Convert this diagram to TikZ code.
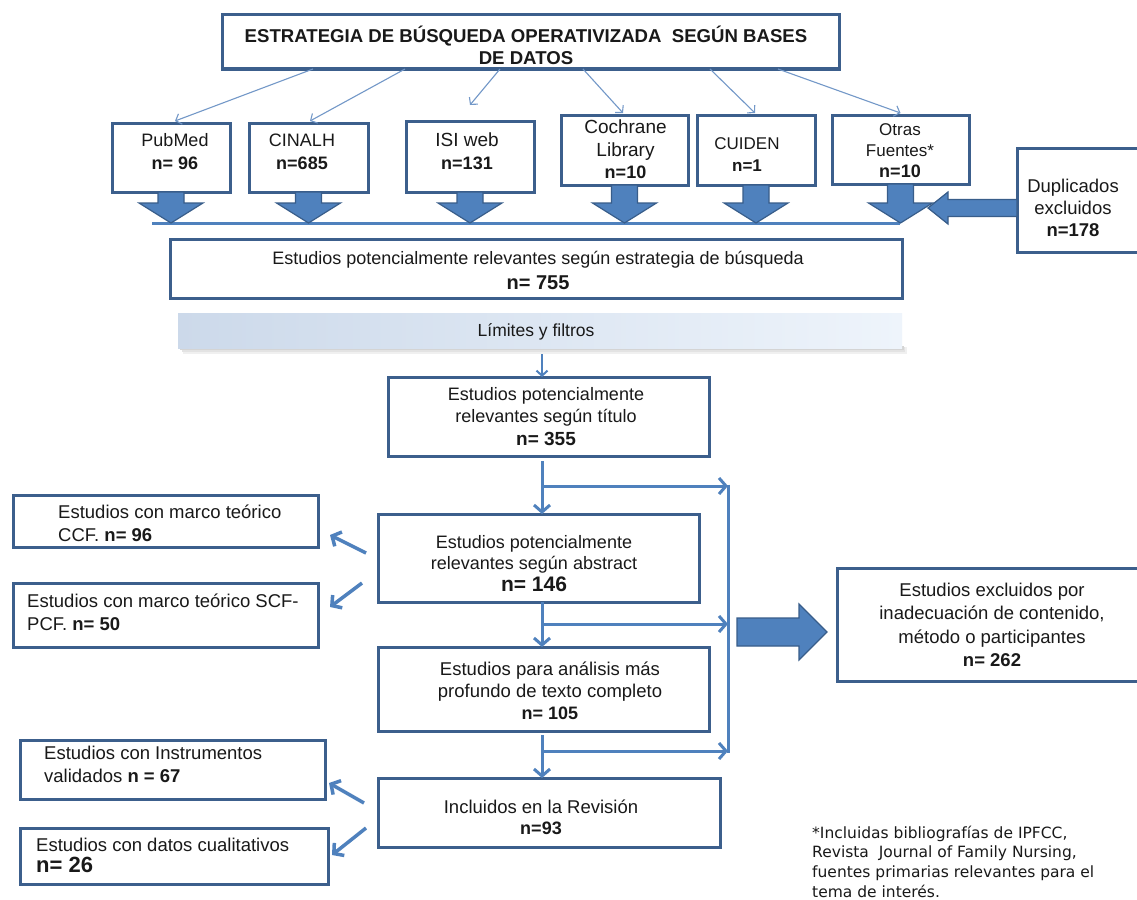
\documentclass[tikz,border=0pt]{standalone}
\usepackage{fontspec}
\setmainfont{Liberation Sans}
\newfontfamily\footfont{DejaVu Sans}
\usetikzlibrary{arrows.meta,calc}
\definecolor{boxc}{RGB}{60,95,140}
\definecolor{blkfill}{RGB}{79,129,189}
\definecolor{blkline}{RGB}{56,93,138}
\definecolor{loopc}{RGB}{79,129,189}
\definecolor{thinc}{RGB}{115,152,200}
\definecolor{bandl}{RGB}{204,217,234}
\definecolor{bandr}{RGB}{238,244,251}
\definecolor{txc}{RGB}{25,25,25}
\newcommand{\myfs}[2]{\fontsize{#1}{#2}\selectfont}
\newcommand{\blkdown}[1]{%
 \path[blk] let \p1=(#1.south) in
 (\x1-13pt,\y1) -- (\x1+13pt,\y1) -- (\x1+13pt,-203pt) -- (\x1+32pt,-203pt)
 -- (\x1,-223pt) -- (\x1-32pt,-203pt) -- (\x1-13pt,-203pt) -- cycle;}
\begin{document}
\begin{tikzpicture}[x=1pt,y=-1pt,
  bx/.style={draw=boxc, line width=3pt, fill=white, inner sep=0pt, outer sep=0pt},
  tx/.style={inner sep=0pt, align=center, text=txc},
  tl/.style={inner sep=0pt, align=left, anchor=west, text=txc},
  thinarr/.style={draw=thinc, line width=1.1pt, -{Straight Barb[length=5pt,width=11pt]}},
  lp/.style={draw=loopc, line width=3pt},
  lpa/.style={draw=loopc, line width=3pt, -{Straight Barb[length=7pt,width=16pt]}},
  blk/.style={fill=blkfill, draw=blkline, line width=1.2pt, line join=miter},
]
\useasboundingbox (0,0) rectangle (1137,899);
\clip (0,0) rectangle (1137,899);
\fill[white] (0,0) rectangle (1137,899);

% ---------- top part boxes
\node[bx, minimum width=617pt, minimum height=54pt] (top) at (530.5,42) {};
\node[bx, minimum width=118pt, minimum height=69pt] (pub) at (171,157.5) {};
\node[bx, minimum width=119pt, minimum height=69pt] (cin) at (308.5,157.5) {};
\node[bx, minimum width=128pt, minimum height=71pt] (isi) at (470,156.5) {};
\node[bx, minimum width=127pt, minimum height=70pt] (coch) at (624.5,150) {};
\node[bx, minimum width=118pt, minimum height=70pt] (cuid) at (756,150) {};
\node[bx, minimum width=137pt, minimum height=69pt] (otr) at (900.5,149.5) {};
\node[bx, minimum width=133pt, minimum height=104pt] (dup) at (1083.5,200) {};
\node[bx, minimum width=732pt, minimum height=59pt] (s755) at (536,268.5) {};

% texts top
\node[tx, font={\myfs{18.6}{22}\bfseries}] (ttop) at (526,45)
  {ESTRATEGIA DE BÚSQUEDA OPERATIVIZADA~ SEGÚN BASES\\DE DATOS};
\node[tx, font={\myfs{18}{23}}] (tpub) at (175,151.5) {PubMed\\\textbf{n= 96}};
\node[tx, font={\myfs{18}{23}}] (tcin) at (302,151.5) {CINALH\\\textbf{n=685}};
\node[tx, font={\myfs{19}{23}}] (tisi) at (467,151.5) {ISI web\\\myfs{18}{23}\textbf{n=131}};
\node[tx, font={\myfs{19}{22.5}}] (tcoch) at (625.5,149.5) {Cochrane\\Library\\\myfs{18}{22.5}\textbf{n=10}};
\node[tx, font={\myfs{17}{22}}] (tcuid) at (747,155) {CUIDEN\\\textbf{n=1}};
\node[tx, font={\myfs{17}{21}}] (totr) at (900,151) {Otras\\Fuentes*\\\myfs{18}{21}\textbf{n=10}};
\node[tx, font={\myfs{18.5}{22}}] (tdup) at (1073,208) {Duplicados\\excluidos\\\textbf{n=178}};
\node[tx, font={\myfs{18}{25}}] (t755) at (538,270.5)
  {Estudios potencialmente relevantes según estrategia de búsqueda\\\myfs{20}{25}\textbf{n= 755}};

% thin arrows from the top box
\draw[thinarr] ([xshift=91pt]top.south west) -- ([xshift=4pt,yshift=2pt]pub.north);
\draw[thinarr] ([xshift=183pt]top.south west) -- ([xshift=1.5pt,yshift=2pt]cin.north);
\draw[thinarr] ([xshift=278pt]top.south west) -- ([yshift=16pt]isi.north);
\draw[thinarr] ([xshift=361pt]top.south west) -- ([xshift=-1.5pt,yshift=2pt]coch.north);
\draw[thinarr] ([xshift=488pt]top.south west) -- ([xshift=-1pt,yshift=2pt]cuid.north);
\draw[thinarr] ([xshift=556pt]top.south west) -- ([yshift=2pt]otr.north);

% collecting line and block arrows
\coordinate (hl) at (152,223.5);
\coordinate (hr) at (900,223.5);
\draw[draw=loopc, line width=3pt] (hl) -- (hr);
\blkdown{pub}\blkdown{cin}\blkdown{isi}\blkdown{coch}\blkdown{cuid}\blkdown{otr}
\path[blk] let \p1=(dup.west) in (\x1,-199.5pt) -- (948pt,-199.5pt) -- (948pt,-192pt)
  -- (928pt,-208pt) -- (948pt,-224pt) -- (948pt,-216.5pt) -- (\x1,-216.5pt) -- cycle;

% ---------- band with soft shadow
\fill[black!6] (183,347) rectangle (907,354);
\fill[black!11] (182,347) rectangle (905,352);
\fill[black!17] (180,346) rectangle (904,350);
\node[left color=bandl, right color=bandr, minimum width=724pt, minimum height=35pt, inner sep=0pt] (band) at (540,330.5) {};
\node[tx, font={\myfs{17.5}{20}}] (tband) at (536,332) {Límites y filtros};

% ---------- lower boxes
\node[bx, minimum width=321pt, minimum height=79pt] (s355) at (548.5,416.5) {};
\node[bx, minimum width=321pt, minimum height=88pt] (s146) at (538.5,558) {};
\node[bx, minimum width=331pt, minimum height=84pt] (s105) at (543.5,689) {};
\node[bx, minimum width=342pt, minimum height=69pt] (incl) at (549,812.5) {};
\node[bx, minimum width=305pt, minimum height=52pt] (ccf) at (165.5,521) {};
\node[bx, minimum width=305pt, minimum height=64pt] (scf) at (165.5,615) {};
\node[bx, minimum width=305pt, minimum height=59pt] (instr) at (172.5,769.5) {};
\node[bx, minimum width=308pt, minimum height=56pt] (cual) at (174,856) {};
\node[bx, minimum width=313pt, minimum height=113pt] (excl) at (993.5,624.5) {};

\node[tx, font={\myfs{18}{22.5}}] (t355) at (546,416.5)
  {Estudios potencialmente\\relevantes según título\\\myfs{19}{22.5}\textbf{n= 355}};
\node[tx, font={\myfs{18}{21.5}}] (t146) at (534,563.5)
  {Estudios potencialmente\\relevantes según abstract\\\myfs{21}{21.5}\textbf{n= 146}};
\node[tx, font={\myfs{18.5}{22}}] (t105) at (550,691)
  {Estudios para análisis más\\profundo de texto completo\\\myfs{18}{22}\textbf{n= 105}};
\node[tx, font={\myfs{18.5}{21}}] (tincl) at (541,817.5)
  {Incluidos en la Revisión\\\myfs{18}{21}\textbf{n=93}};
\node[tl, font={\myfs{18.5}{23}}] (tccf) at (58,523.5)
  {Estudios con marco teórico\\CCF. \textbf{n= 96}};
\node[tl, font={\myfs{18.5}{23}}] (tscf) at (27,612.5)
  {Estudios con marco teórico SCF-\\PCF. \textbf{n= 50}};
\node[tl, font={\myfs{18.5}{23}}] (tinstr) at (44,764.5)
  {Estudios con Instrumentos\\validados \textbf{n = 67}};
\node[tl, font={\myfs{18.5}{21}}] (tcual) at (36,855.5)
  {Estudios con datos cualitativos\\\myfs{22}{21}\textbf{n= 26}};
\node[tx, font={\myfs{18.5}{23.3}}] (texcl) at (992,625)
  {Estudios excluidos por\\inadecuación de contenido,\\método o participantes\\\textbf{n= 262}};

% band -> 355
\coordinate (vx) at (542,354);
\draw[draw=loopc, line width=2pt, -{Straight Barb[length=5pt,width=11pt]}] (vx) -- (vx |- s355.north);

% loops to the exclusion line
\coordinate (v1) at (542,461);
\coordinate (b1) at (542,486);
\coordinate (r1) at (728,486);
\coordinate (v2) at (542,602);
\coordinate (b2) at (542,624);
\coordinate (r2) at (728,624);
\coordinate (v3) at (542,735);
\coordinate (b3) at (542,751);
\coordinate (r3) at (728,751);
\draw[lpa] (v1) -- (v1 |- s146.north);
\draw[lpa] (v2) -- (v2 |- s105.north);
\draw[lpa] (v3) -- (v3 |- incl.north);
\draw[lpa] (b1) -- (r1);
\draw[lpa] (b2) -- (r2);
\draw[lpa] (b3) -- (r3);
\draw[lp] ([yshift=1.5pt]r1) -- ([yshift=-1.5pt]r3);

% big arrow to exclusions
\path[blk] let \p1=(excl.west) in (737pt,-618pt) -- (799pt,-618pt) -- (799pt,-604pt)
  -- (\x1-10pt,-632pt) -- (799pt,-660pt) -- (799pt,-646pt) -- (737pt,-646pt) -- cycle;

% diagonal arrows to the side boxes
\draw[lpa, line width=3.5pt] ($(s146.west)+(-12,-5)$) -- ($(ccf.east)+(12,14)$);
\draw[lpa, line width=3.5pt] ($(s146.west)+(-16,25)$) -- ($(scf.east)+(12,-8)$);
\draw[lpa, line width=3.5pt] ($(incl.west)+(-14,-9.5)$) -- ($(instr.east)+(4,13.5)$);
\draw[lpa, line width=3.5pt] ($(incl.west)+(-12,15.5)$) -- ($(cual.east)+(4,-1)$);

% footnote
\node[tl, font={\footfont\myfs{15.5}{19.7}}] (fn) at (812,861.5)
  {*Incluidas bibliografías de IPFCC,\\Revista~ Journal of Family Nursing,\\fuentes primarias relevantes para el\\tema de interés.};
\end{tikzpicture}
\end{document}
